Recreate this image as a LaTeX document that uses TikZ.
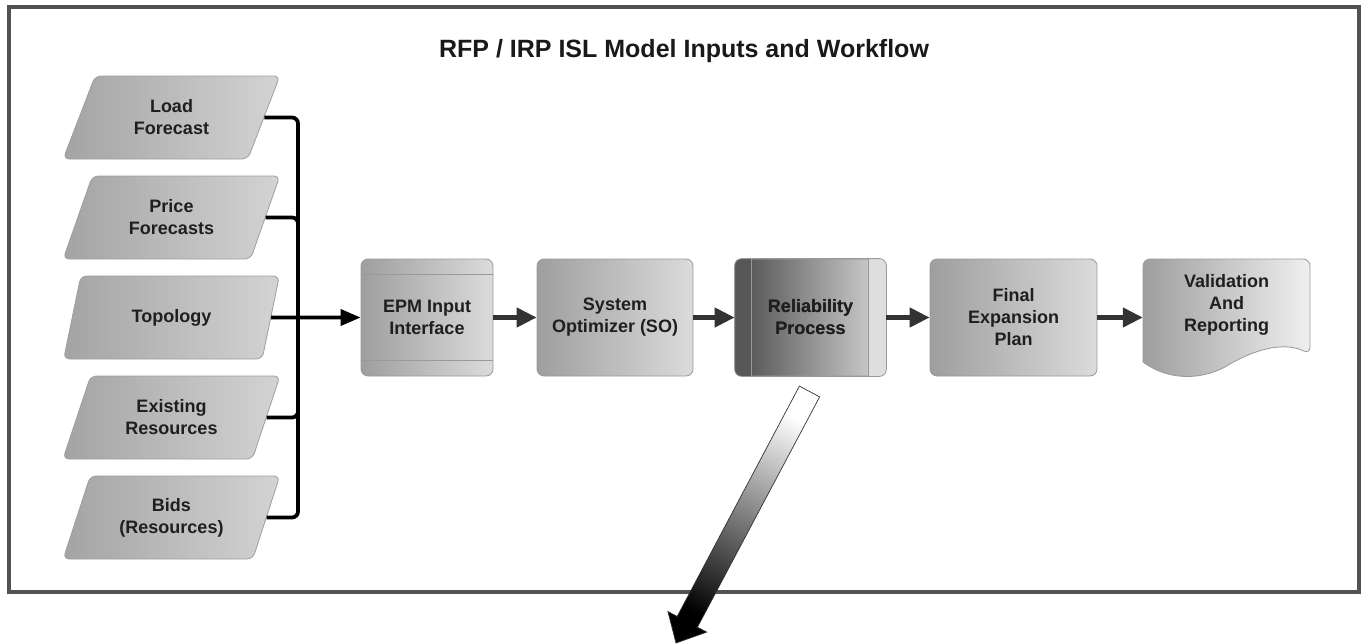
\documentclass[tikz,border=0pt]{standalone}
\usepackage{fontspec}
\setmainfont{Liberation Sans}
\usetikzlibrary{shapes.geometric,arrows.meta,calc}

\begin{document}
\begin{tikzpicture}[x=1pt,y=-1pt,
  lbl/.style={font=\fontsize{18}{22}\selectfont\bfseries, text=black!88, align=center},
  inbox/.style={trapezium, trapezium left angle=66, trapezium right angle=114,
    trapezium stretches=true, minimum width=217pt, minimum height=83pt,
    rounded corners=6pt, draw=black!38, line width=0.8pt,
    left color=black!36, right color=black!17, inner sep=0pt, lbl},
  procbox/.style={rectangle, rounded corners=7pt, minimum height=117pt,
    draw=black!40, line width=0.8pt, left color=black!38, right color=black!14,
    inner sep=0pt, lbl},
  edgeline/.style={draw=black!40, line width=0.8pt},
  bus/.style={line width=3.8pt, black, rounded corners=6pt},
  flow/.style={line width=4.5pt, black!80, -{Triangle[length=20pt,width=19pt]}},
]
\useasboundingbox (0,0) rectangle (1363,643);

% outer frame
\draw[line width=4pt, black!68] (9,7) rectangle (1359,592);

% title
\node[font=\fontsize{25}{29}\selectfont\bfseries, text=black!90, anchor=base,
  inner sep=0pt] (title) at (684,57) {RFP / IRP ISL Model Inputs and Workflow};

% input data
\node[inbox] (load)  at (171.5,117.5) {Load\\Forecast};
\node[inbox] (price) at (171.5,217.5) {Price\\Forecasts};
\node[inbox] (topo)  at (171.5,317.5) {Topology};
\node[inbox] (exist) at (171.5,417.5) {Existing\\Resources};
\node[inbox] (bids)  at (171.5,517.5) {Bids\\(Resources)};

% process chain
\node[procbox, minimum width=132pt] (epm) at (427,317.5) {EPM Input\\Interface};
\node[procbox, minimum width=156pt] (so) at (615,317.5) {System\\Optimizer (SO)};
\node[procbox, minimum width=151pt, left color=black!70, right color=black!16] (rel)
  at (810.5,317.5) {Reliability\\Process};
\node[procbox, minimum width=167pt] (final) at (1013.5,317.5) {Final\\Expansion\\Plan};
\node[minimum width=167pt, minimum height=117pt, inner sep=0pt] (val) at (1226.5,317.5) {};

% header/footer bands of the interface box
\draw[edgeline] ($(epm.north west)+(0,16)$) -- ($(epm.north east)+(0,16)$);
\draw[edgeline] ($(epm.south west)+(0,-16)$) -- ($(epm.south east)+(0,-16)$);

% side strips of the reliability box
\begin{scope}
  \clip[rounded corners=7pt] (rel.north west) rectangle (rel.south east);
  \fill[black!66] (rel.north west) rectangle ($(rel.south west)+(17,0)$);
  \fill[black!13] ($(rel.north east)+(-18,0)$) rectangle (rel.south east);
\end{scope}
\draw[edgeline, rounded corners=7pt] (rel.north west) rectangle (rel.south east);
\draw[edgeline] ($(rel.north west)+(17,0)$) -- ($(rel.south west)+(17,0)$);
\draw[edgeline] ($(rel.north east)+(-18,0)$) -- ($(rel.south east)+(-18,0)$);
\node[lbl] at (rel) {Reliability\\Process};

% document shape for the report
\path[edgeline, shading=axis, left color=black!38, right color=black!6]
  (1143,362) [rounded corners=7pt] -- (1143,259) -- (1310,259) -- (1310,354)
  [sharp corners] .. controls (1285,342) and (1258,348) .. (1230,364)
  .. controls (1205,380) and (1170,382) .. (1143,362) -- cycle;
\node[lbl] (valtext) at (1226.5,305) {Validation\\And\\Reporting};

% input bus
\coordinate (j) at (298,317.5);
\draw[bus] (load.east) -| (j);
\draw[bus] (price.east) -| (j);
\draw[bus] (exist.east) -| (j);
\draw[bus] (bids.east) -| (j);
\draw[bus, -{Triangle[length=20pt,width=16pt]}] (topo.east) -- (epm.west);

% flow between steps
\draw[flow] (epm.east) -- (so.west);
\draw[flow] (so.east) -- (rel.west);
\draw[flow] (rel.east) -- (final.west);
\draw[flow] (final.east) -- (val.west);

% outgoing arrow from the reliability step
\shade[shading=axis, top color=white, bottom color=black, shading angle=-28,
  draw=black!80, line width=0.7pt]
  (799.4,386.1) -- (819.6,396.9) -- (697.4,627.2) -- (706.7,632.1) -- (676,643)
  -- (667.9,611.5) -- (677.2,616.4) -- cycle;
\end{tikzpicture}
\end{document}
